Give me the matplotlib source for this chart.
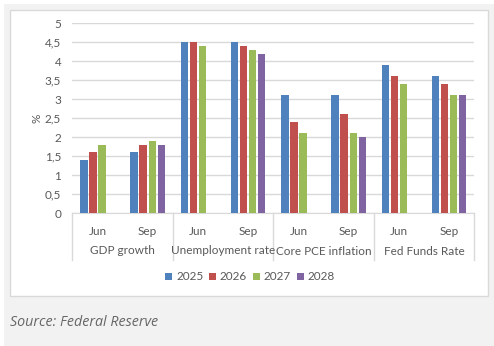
import matplotlib
matplotlib.use("Agg")
import matplotlib.pyplot as plt
from matplotlib.patches import Rectangle
from matplotlib.transforms import blended_transform_factory
import numpy as np

groups = ["GDP growth", "Unemployment rate", "Core PCE inflation", "Fed Funds Rate"]
subcats = ["Jun", "Sep"]
years = ["2025", "2026", "2027", "2028"]
colors = ["#4F81BD", "#C0504D", "#9BBB59", "#8064A2"]

v2025 = [1.4, 1.6, 4.5, 4.5, 3.1, 3.1, 3.9, 3.6]
v2026 = [1.6, 1.8, 4.5, 4.4, 2.4, 2.6, 3.6, 3.4]
v2027 = [1.8, 1.9, 4.4, 4.3, 2.1, 2.1, 3.4, 3.1]
v2028 = [np.nan, 1.8, np.nan, 4.2, np.nan, 2.0, np.nan, 3.1]
series = [v2025, v2026, v2027, v2028]

W, H = 494, 346
fig = plt.figure(figsize=(W / 100, H / 100), dpi=100, facecolor="white")
plt.rcParams["font.family"] = ["Lato", "DejaVu Sans"]

# backgrounds
fig.patches.append(Rectangle((4 / W, 0), 1, 1 - 4 / H, transform=fig.transFigure,
                             facecolor="#f2f2f2", edgecolor="none", zorder=0))
fig.patches.append(Rectangle((9.5 / W, 1 - 296 / H), (488 - 9.5) / W, (296 - 9.5) / H,
                             transform=fig.transFigure, facecolor="white",
                             edgecolor="#d9d9d9", linewidth=1, zorder=1))

left, right, top, bottom = 72.3, 474.3, 23.3, 213
ax = fig.add_axes([left / W, 1 - bottom / H, (right - left) / W, (bottom - top) / H])
ax.set_facecolor("none")
ax.set_zorder(2)

n = len(subcats) * len(groups)
x = np.arange(n)
slot, bw = 0.18, 0.146
for i, (vals, c, y) in enumerate(zip(series, colors, years)):
    ax.bar(x + (i - 1.5) * slot, vals, width=bw, color=c, label=y, zorder=3)

ax.set_xlim(-0.5, n - 0.5)
ax.set_ylim(0, 5)
yt = np.arange(0, 5.01, 0.5)
ax.set_yticks(yt)
ax.set_yticklabels([("%g" % t).replace(".", ",") for t in yt])
ax.grid(axis="y", color="#d9d9d9", linewidth=1, zorder=0)
for s in ["top", "right", "left"]:
    ax.spines[s].set_visible(False)
ax.spines["bottom"].set_color("#d9d9d9")
ax.tick_params(axis="y", length=0, colors="#595959", labelsize=8.5, pad=8)
ax.tick_params(axis="x", length=0, colors="#595959", labelsize=8.5, pad=9)
ax.set_xticks(x)
ax.set_xticklabels(subcats * len(groups))
ax.set_ylabel("%", color="#595959", fontsize=8.5, labelpad=2)

tr = blended_transform_factory(ax.transData, ax.transAxes)
sep_bottom = -(260 - bottom) / (bottom - top)
for k in range(len(groups) + 1):
    xs = -0.5 + 2 * k
    ax.plot([xs, xs], [0, sep_bottom], transform=tr, color="#d9d9d9",
            linewidth=1, clip_on=False)
grp_y = -(251 - bottom) / (bottom - top)
for k, g in enumerate(groups):
    ax.text(0.5 + 2 * k, grp_y, g, transform=tr, ha="center", va="center",
            fontsize=8.5, color="#595959")

fig.legend(ncol=4, loc="center", bbox_to_anchor=(250 / W, 1 - 277 / H),
           frameon=False, handlelength=0.6, handleheight=0.6,
           columnspacing=0.5, handletextpad=0.3, fontsize=8.5,
           labelcolor="#595959")

fig.text(10 / W, 1 - 322 / H, "Source: Federal Reserve", ha="left", va="center",
         fontsize=10.3, style="italic", color="#666666", family=["Open Sans", "DejaVu Sans"])

fig.savefig("out.png", dpi=100, facecolor=fig.get_facecolor())
